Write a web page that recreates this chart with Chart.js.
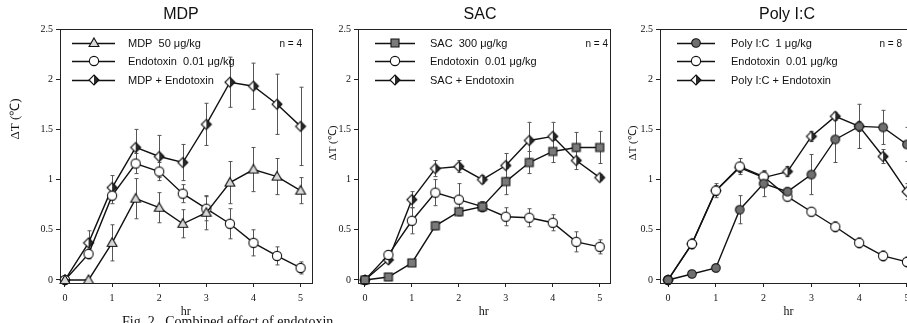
<!DOCTYPE html>
<html>
<head>
<meta charset="utf-8">
<script src="https://cdn.jsdelivr.net/npm/chart.js@4.4.1/dist/chart.umd.min.js"></script>
<style>
html,body{margin:0;padding:0;background:#fff;}
body{width:907px;height:323px;overflow:hidden;position:relative;}
.panel{position:absolute;top:0;}
#caption{position:absolute;left:122px;top:314px;font:14px "Liberation Serif",serif;color:#111;white-space:nowrap;}
</style>
</head>
<body>
<div class="panel" style="left:0px"><canvas id="c1" width="318" height="323"></canvas></div>
<div class="panel" style="left:318px"><canvas id="c2" width="298" height="323"></canvas></div>
<div class="panel" style="left:616px"><canvas id="c3" width="310" height="323"></canvas></div>
<div id="caption">Fig. 2&nbsp;&nbsp;&nbsp;Combined effect of endotoxin</div>
<script>
// ---------- DATA ----------
const hours = [0, 0.5, 1, 1.5, 2, 2.5, 3, 3.5, 4, 4.5, 5];
const xTickValues = [0, 1, 2, 3, 4, 5];
const yTickValues = [0, 0.5, 1, 1.5, 2, 2.5];
const panelTitles = ["MDP", "SAC", "Poly I:C"];
const sampleSizes = ["n = 4", "n = 4", "n = 8"];
const yAxisLabel = "ΔT (℃)";
const xAxisLabel = "hr";

// MDP panel
const mdpLabels = ["MDP  50 μg/kg", "Endotoxin  0.01 μg/kg", "MDP + Endotoxin"];
const mdpValues      = [0, 0, 0.37, 0.81, 0.72, 0.56, 0.67, 0.97, 1.10, 1.03, 0.89];
const mdpErr         = [0, 0, 0.18, 0.20, 0.15, 0.14, 0.17, 0.21, 0.22, 0.18, 0.13];
const endoMdpValues  = [0, 0.26, 0.84, 1.16, 1.08, 0.86, 0.71, 0.56, 0.37, 0.24, 0.12];
const endoMdpErr     = [0, 0.05, 0.08, 0.10, 0.09, 0.09, 0.12, 0.15, 0.13, 0.09, 0.06];
const mdpEndoValues  = [0, 0.37, 0.92, 1.32, 1.23, 1.17, 1.55, 1.97, 1.93, 1.75, 1.53];
const mdpEndoErr     = [0, 0.12, 0.12, 0.18, 0.21, 0.18, 0.21, 0.25, 0.23, 0.30, 0.39];

// SAC panel
const sacLabels = ["SAC  300 μg/kg", "Endotoxin  0.01 μg/kg", "SAC + Endotoxin"];
const sacValues      = [0, 0.03, 0.17, 0.54, 0.68, 0.73, 0.98, 1.17, 1.28, 1.32, 1.32];
const sacErr         = [0, 0.01, 0.02, 0.04, 0.04, 0.05, 0.13, 0.11, 0.11, 0.15, 0.16];
const endoSacValues  = [0, 0.25, 0.59, 0.87, 0.80, 0.73, 0.63, 0.62, 0.57, 0.38, 0.33];
const endoSacErr     = [0, 0.04, 0.13, 0.13, 0.16, 0.05, 0.09, 0.09, 0.08, 0.10, 0.07];
const sacEndoValues  = [0, 0.20, 0.80, 1.11, 1.13, 1.00, 1.14, 1.39, 1.43, 1.19, 1.02];
const sacEndoErr     = [0, 0.03, 0.08, 0.08, 0.06, 0.04, 0.12, 0.18, 0.14, 0.09, 0.03];

// Poly I:C panel
const polyLabels = ["Poly I:C  1 μg/kg", "Endotoxin  0.01 μg/kg", "Poly I:C + Endotoxin"];
const polyValues     = [0, 0.06, 0.12, 0.70, 0.96, 0.88, 1.05, 1.40, 1.53, 1.52, 1.35];
const polyErr        = [0, 0.01, 0.04, 0.14, 0.13, 0.04, 0.20, 0.23, 0.22, 0.17, 0.17];
const endoPolyValues = [0, 0.36, 0.89, 1.13, 1.03, 0.83, 0.68, 0.53, 0.37, 0.24, 0.18];
const endoPolyErr    = [0, 0.05, 0.07, 0.08, 0.05, 0.04, 0.04, 0.05, 0.05, 0.05, 0.05];
const polyEndoValues = [0, 0.36, 0.89, 1.12, 1.02, 1.08, 1.43, 1.63, 1.53, 1.23, 0.88];
const polyEndoErr    = [0, 0.04, 0.05, 0.05, 0.05, 0.05, 0.05, 0.04, 0.05, 0.07, 0.08];

// ---------- MARKERS ----------
function makeMarker(type) {
  const s = 14, m = s / 2, r = 4.6;
  const c = document.createElement('canvas');
  c.width = s; c.height = s;
  const g = c.getContext('2d');
  g.lineWidth = 1.1; g.strokeStyle = '#111';
  g.beginPath();
  if (type === 'triangle') {
    g.moveTo(m, m - r - 0.5); g.lineTo(m + r + 0.3, m + r * 0.75); g.lineTo(m - r - 0.3, m + r * 0.75); g.closePath();
    g.fillStyle = '#d8d8d8'; g.fill(); g.stroke();
  } else if (type === 'circleOpen') {
    g.arc(m, m, r, 0, Math.PI * 2); g.fillStyle = '#fff'; g.fill(); g.stroke();
  } else if (type === 'circleFilled') {
    g.arc(m, m, r - 0.3, 0, Math.PI * 2); g.fillStyle = '#6f6f6f'; g.fill(); g.stroke();
  } else if (type === 'square') {
    g.rect(m - 4, m - 4, 8, 8); g.fillStyle = '#7a7a7a'; g.fill(); g.stroke();
  } else if (type === 'diamondHalf') {
    const rr = r + 0.4;
    g.moveTo(m, m - rr); g.lineTo(m + rr, m); g.lineTo(m, m + rr); g.lineTo(m - rr, m); g.closePath();
    g.fillStyle = '#fff'; g.fill();
    g.beginPath(); g.moveTo(m, m - rr); g.lineTo(m + rr, m); g.lineTo(m, m + rr); g.closePath();
    g.fillStyle = '#2a2a2a'; g.fill();
    g.beginPath(); g.moveTo(m, m - rr); g.lineTo(m + rr, m); g.lineTo(m, m + rr); g.lineTo(m - rr, m); g.closePath();
    g.stroke();
  }
  return c;
}
const markers = {
  triangle: makeMarker('triangle'),
  circleOpen: makeMarker('circleOpen'),
  circleFilled: makeMarker('circleFilled'),
  square: makeMarker('square'),
  diamondHalf: makeMarker('diamondHalf')
};

// ---------- PLUGINS ----------
const errorBarPlugin = {
  id: 'errorBars',
  beforeDatasetsDraw(chart) {
    const g = chart.ctx, xs = chart.scales.x, ys = chart.scales.y;
    g.save();
    g.strokeStyle = '#555'; g.lineWidth = 1;
    chart.data.datasets.forEach(ds => {
      ds.data.forEach((p, i) => {
        const e = ds.err[i];
        if (!e) return;
        const x = Math.round(xs.getPixelForValue(p.x)) + 0.5;
        const y1 = ys.getPixelForValue(p.y + e), y2 = ys.getPixelForValue(p.y - e);
        g.beginPath();
        g.moveTo(x, y1); g.lineTo(x, y2);
        g.moveTo(x - 2, y1); g.lineTo(x + 2, y1);
        g.moveTo(x - 2, y2); g.lineTo(x + 2, y2);
        g.stroke();
      });
    });
    g.restore();
  }
};

const decorPlugin = {
  id: 'decor',
  afterDraw(chart, args, opts) {
    const g = chart.ctx, a = chart.chartArea;
    g.save();
    // frame
    g.strokeStyle = '#222'; g.lineWidth = 1;
    g.strokeRect(Math.round(a.left) + 0.5, Math.round(a.top) + 0.5, Math.round(a.right - a.left), Math.round(a.bottom - a.top));
    // title
    g.fillStyle = '#111';
    g.font = '16px "Liberation Sans", Arial, sans-serif';
    g.textAlign = 'center'; g.textBaseline = 'middle';
    g.fillText(opts.title, opts.titleX, opts.titleY);
    // y axis label
    g.save();
    g.translate(opts.yLabelX, opts.yLabelY);
    g.rotate(-Math.PI / 2);
    g.font = opts.yLabelFont;
    g.fillText(yAxisLabel, 0, 0);
    g.restore();
    // legend
    g.font = '11px "Liberation Sans", Arial, sans-serif';
    g.textAlign = 'left';
    chart.data.datasets.forEach((ds, i) => {
      const y = opts.legendY[i];
      g.strokeStyle = '#111'; g.lineWidth = 1.4;
      g.beginPath(); g.moveTo(opts.legendX0, y + 0.5); g.lineTo(opts.legendX1, y + 0.5); g.stroke();
      const mk = ds.pointStyle;
      g.drawImage(mk, Math.round((opts.legendX0 + opts.legendX1) / 2 - mk.width / 2), Math.round(y - mk.height / 2));
      g.fillStyle = '#111';
      g.fillText(ds.label, opts.legendTextX, y + 1);
    });
    g.textAlign = 'right';
    g.font = '10px "Liberation Sans", Arial, sans-serif';
    g.fillText(opts.nText, opts.nX, opts.legendY[0] + 1);
    g.restore();
  }
};

// ---------- CHART FACTORY ----------
function makePanel(canvasId, cfg) {
  const datasets = cfg.series.map(s => ({
    label: s.label,
    data: hours.map((h, i) => ({ x: h, y: s.values[i] })),
    err: s.err,
    borderColor: '#111',
    borderWidth: 1.4,
    pointStyle: s.marker,
    pointRadius: 5,
    pointHoverRadius: 5,
    fill: false,
    tension: 0,
    clip: false
  }));
  const tickFont = { family: '"Liberation Serif", "Times New Roman", serif', size: 10 };
  return new Chart(document.getElementById(canvasId), {
    type: 'line',
    data: { datasets },
    options: {
      responsive: false,
      animation: false,
      devicePixelRatio: 1,
      events: [],
      layout: { padding: { left: 0, right: cfg.padRight, top: cfg.top, bottom: 0 } },
      plugins: {
        legend: { display: false },
        tooltip: { enabled: false },
        decor: cfg.decor
      },
      scales: {
        x: {
          type: 'linear',
          min: cfg.xmin, max: cfg.xmax,
          afterBuildTicks: sc => { sc.ticks = xTickValues.map(v => ({ value: v })); },
          afterFit: sc => { sc.height = 323 - cfg.bottom; },
          grid: { display: true, drawOnChartArea: false, drawTicks: true, tickLength: 4, color: '#222' },
          border: { display: true, color: '#222', width: 1 },
          ticks: { font: tickFont, color: '#111', padding: 5, maxRotation: 0, autoSkip: false, callback: v => String(v) },
          title: { display: true, text: xAxisLabel, color: '#111', font: { family: '"Liberation Serif", serif', size: 12 }, padding: { top: 0, bottom: 4 } }
        },
        y: {
          type: 'linear',
          min: -0.03, max: 2.5,
          afterBuildTicks: sc => { sc.ticks = yTickValues.map(v => ({ value: v })); },
          afterFit: sc => { sc.width = cfg.left; },
          grid: { display: true, drawOnChartArea: false, drawTicks: true, tickLength: 4, color: '#222' },
          border: { display: true, color: '#222', width: 1 },
          ticks: { font: tickFont, color: '#111', padding: 3, autoSkip: false, callback: v => String(v) }
        }
      }
    },
    plugins: [errorBarPlugin, decorPlugin]
  });
}

makePanel('c1', {
  left: 60, padRight: 6, top: 29, bottom: 283, xmin: -0.106, xmax: 5.233,
  series: [
    { label: mdpLabels[0], values: mdpValues, err: mdpErr, marker: markers.triangle },
    { label: mdpLabels[1], values: endoMdpValues, err: endoMdpErr, marker: markers.circleOpen },
    { label: mdpLabels[2], values: mdpEndoValues, err: mdpEndoErr, marker: markers.diamondHalf }
  ],
  decor: { title: panelTitles[0], titleX: 181, titleY: 15, yLabelX: 16, yLabelY: 119, yLabelFont: '13px "Liberation Serif", serif',
    legendX0: 72, legendX1: 115, legendTextX: 128, legendY: [43, 61, 80], nText: sampleSizes[0], nX: 302 }
});

makePanel('c2', {
  left: 40, padRight: 3, top: 29, bottom: 283, xmin: -0.147, xmax: 5.21,
  series: [
    { label: sacLabels[0], values: sacValues, err: sacErr, marker: markers.square },
    { label: sacLabels[1], values: endoSacValues, err: endoSacErr, marker: markers.circleOpen },
    { label: sacLabels[2], values: sacEndoValues, err: sacEndoErr, marker: markers.diamondHalf }
  ],
  decor: { title: panelTitles[1], titleX: 162, titleY: 15, yLabelX: 15, yLabelY: 143, yLabelFont: '11px "Liberation Serif", serif',
    legendX0: 57, legendX1: 97, legendTextX: 112, legendY: [43, 61, 80], nText: sampleSizes[1], nX: 290 }
});

makePanel('c3', {
  left: 44, padRight: 9, top: 29, bottom: 283, xmin: -0.168, xmax: 5.21,
  series: [
    { label: polyLabels[0], values: polyValues, err: polyErr, marker: markers.circleFilled },
    { label: polyLabels[1], values: endoPolyValues, err: endoPolyErr, marker: markers.circleOpen },
    { label: polyLabels[2], values: polyEndoValues, err: polyEndoErr, marker: markers.diamondHalf }
  ],
  decor: { title: panelTitles[2], titleX: 171, titleY: 15, yLabelX: 17, yLabelY: 143, yLabelFont: '11px "Liberation Serif", serif',
    legendX0: 61, legendX1: 99, legendTextX: 115, legendY: [43, 61, 80], nText: sampleSizes[2], nX: 286 }
});
</script>
</body>
</html>
